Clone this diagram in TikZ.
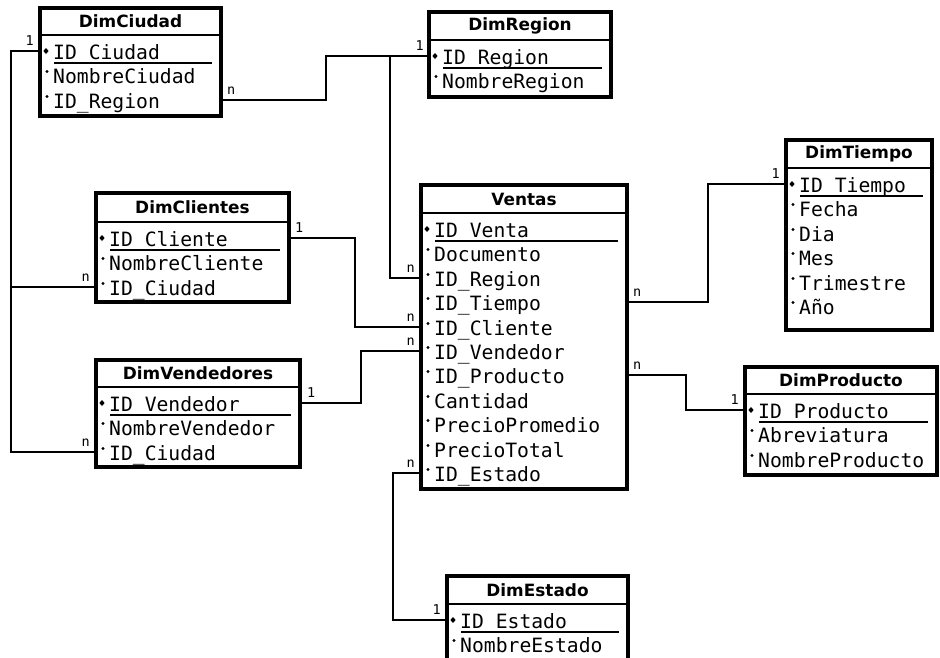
\documentclass[tikz,border=0pt]{standalone}
\usepackage{fontspec}
\newfontfamily\attrfont{DejaVu Sans Mono}
\newfontfamily\titlefont{DejaVu Sans}

\tikzset{
  x=1pt, y=-1pt,
  erframe/.style={draw, fill=white, line width=3.2pt, inner sep=0pt, outer sep=0pt, anchor=north west},
  ertitle/.style={font=\titlefont\bfseries\fontsize{16.9}{17}\selectfont, inner sep=0pt},
  erattr/.style={font=\attrfont\fontsize{19.7}{20}\selectfont, inner sep=0pt, anchor=west,
                 text height=16pt, text depth=0pt},
  headrule/.style={line width=2.5pt},
  keyrule/.style={line width=1.5pt},
  conn/.style={line width=2.8pt},
  card/.style={font=\attrfont\fontsize{13.5}{14}\selectfont, inner sep=0pt},
}

% #1 name, #2 left, #3 top, #4 right, #5 header rule, #6 bottom, #7 title, #8 attributes
\newcommand\ertable[8]{%
  \node[erframe, minimum width={(#4-#2)*1pt}, minimum height={(#6-#3)*1pt}] (#1) at (#2,#3) {};
  \draw[headrule] (#2,#5) -- (#4,#5);
  \node[ertitle] (#1-title) at ({(#2+#4)/2},{(#3+#5)/2}) {#7};
  \foreach \t [count=\i] in {#8} {
    \pgfmathsetmacro\ry{round(#5+16+24.4*(\i-1))}
    \node[erattr] (#1-\i) at (#2+13,\ry) {\t};
    \ifnum\i=1
      \fill (#2+6,\ry) +(0,-3) -- +(2.6,0) -- +(0,3) -- +(-2.6,0) -- cycle;
      \draw[keyrule] (#2+14,\ry+12) -- (#4-9,\ry+12);
    \else
      \fill (#2+7,\ry-3.5) circle (1.6);
    \fi
  }
}

\begin{document}
\begin{tikzpicture}
\useasboundingbox (0,0) rectangle (940,657);
\clip (0,0) rectangle (940,657);
\fill[white] (0,0) rectangle (940,657);

\ertable{ciudad}{40}{8}{221}{35}{116}{DimCiudad}{ID Ciudad,NombreCiudad,ID\_Region}
\ertable{region}{429}{12}{611}{40}{97}{DimRegion}{ID Region,NombreRegion}
\ertable{cli}{96}{193}{289}{222}{302}{DimClientes}{ID Cliente,NombreCliente,ID\_Ciudad}
\ertable{vend}{96}{360}{300}{387}{467}{DimVendedores}{ID Vendedor,NombreVendedor,ID\_Ciudad}
\ertable{ventas}{421}{185}{627}{213}{489}{Ventas}{ID Venta,Documento,ID\_Region,ID\_Tiempo,ID\_Cliente,ID\_Vendedor,ID\_Producto,Cantidad,PrecioPromedio,PrecioTotal,ID\_Estado}
\ertable{tiempo}{786}{140}{932}{168}{330}{DimTiempo}{ID Tiempo,Fecha,Dia,Mes,Trimestre,Año}
\ertable{prod}{745}{367}{937}{394}{475}{DimProducto}{ID Producto,Abreviatura,NombreProducto}
\ertable{estado}{447}{576}{628}{604}{670}{DimEstado}{ID Estado,NombreEstado}

% relationships
\draw[conn] (ciudad.west |- ciudad-1) -- ++(-29,0) coordinate (bus) |- (vend.west |- vend-3);
\draw[conn] (bus |- cli-3) -- (cli.west |- cli-3);
\draw[conn] (ciudad.east |- ciudad-3) -- ++(105,0) |- (region.west |- region-1);
\draw[conn] (region.west |- region-1) -- ++(-39,0) |- (ventas.west |- ventas-3);
\draw[conn] (cli.east |- cli-1) -- ++(66,0) |- (ventas.west |- ventas-5);
\draw[conn] (vend.east |- vend-1) -- ++(61,0) |- (ventas.west |- ventas-6);
\draw[conn] (ventas.east |- ventas-4) -- ++(81,0) |- (tiempo.west |- tiempo-1);
\draw[conn] (ventas.east |- ventas-7) -- ++(59,0) |- (prod.west |- prod-1);
\draw[conn] (ventas.west |- ventas-11) -- ++(-28,0) |- (estado.west |- estado-1);

% cardinalities
\node[card, anchor=south east, xshift=-6pt, yshift=5pt] (c1) at (ciudad.west |- ciudad-1) {1};
\node[card, anchor=south west, xshift=6pt, yshift=5pt] (c2) at (ciudad.east |- ciudad-3) {n};
\node[card, anchor=south east, xshift=-6pt, yshift=5pt] (c3) at (cli.west |- cli-3) {n};
\node[card, anchor=south east, xshift=-6pt, yshift=5pt] (c4) at (vend.west |- vend-3) {n};
\node[card, anchor=south west, xshift=6pt, yshift=5pt] (c5) at (cli.east |- cli-1) {1};
\node[card, anchor=south west, xshift=7pt, yshift=5pt] (c6) at (vend.east |- vend-1) {1};
\node[card, anchor=south east, xshift=-5pt, yshift=5pt] (c7) at (region.west |- region-1) {1};
\node[card, anchor=south east, xshift=-6pt, yshift=5pt] (c8) at (ventas.west |- ventas-3) {n};
\node[card, anchor=south east, xshift=-6pt, yshift=5pt] (c9) at (ventas.west |- ventas-5) {n};
\node[card, anchor=south east, xshift=-6pt, yshift=5pt] (c10) at (ventas.west |- ventas-6) {n};
\node[card, anchor=south east, xshift=-6pt, yshift=5pt] (c11) at (ventas.west |- ventas-11) {n};
\node[card, anchor=south west, xshift=6pt, yshift=5pt] (c12) at (ventas.east |- ventas-4) {n};
\node[card, anchor=south west, xshift=6pt, yshift=5pt] (c13) at (ventas.east |- ventas-7) {n};
\node[card, anchor=south east, xshift=-6pt, yshift=5pt] (c14) at (tiempo.west |- tiempo-1) {1};
\node[card, anchor=south east, xshift=-6pt, yshift=5pt] (c15) at (prod.west |- prod-1) {1};
\node[card, anchor=south east, xshift=-6pt, yshift=5pt] (c16) at (estado.west |- estado-1) {1};
\end{tikzpicture}
\end{document}
